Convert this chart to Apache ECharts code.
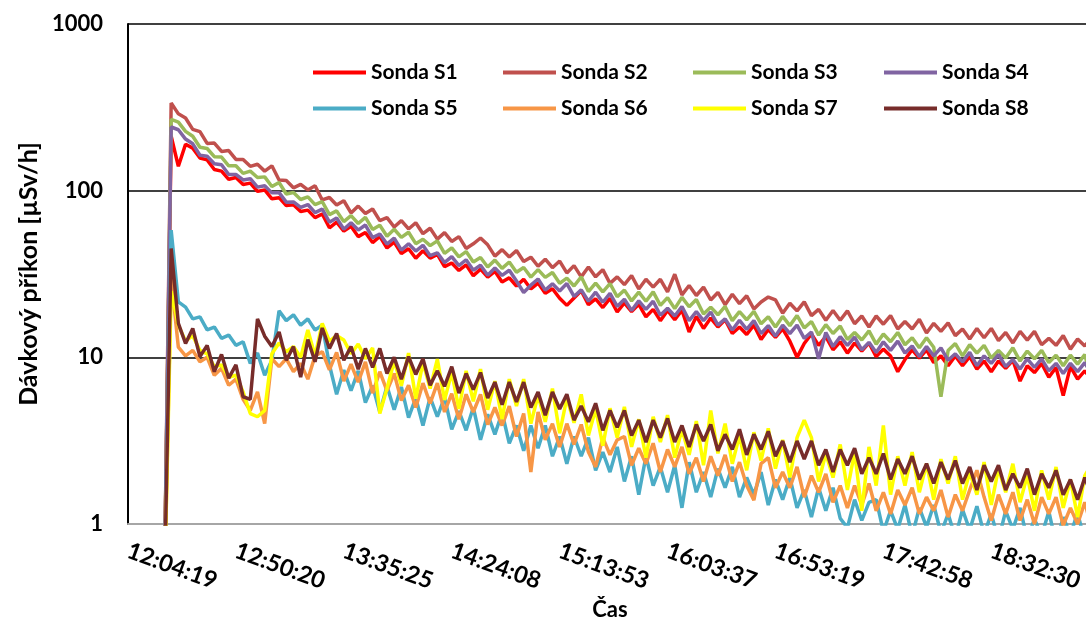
<!DOCTYPE html>
<html>
<head>
<meta charset="utf-8">
<script src="https://cdn.jsdelivr.net/npm/echarts@6.0.0/dist/echarts.min.js"></script>
<style>
html,body{margin:0;padding:0;background:#fff;}
#chart{width:1086px;height:623px;}
</style>
</head>
<body>
<div id="chart"></div>
<script>
// x-axis tick labels (one every K samples)
const tickLabels = ['12:04:19','12:50:20','13:35:25','14:24:08','15:13:53','16:03:37','16:53:19','17:42:58','18:32:30'];
const K = 15;
const seriesNames = ['Sonda S1','Sonda S2','Sonda S3','Sonda S4','Sonda S5','Sonda S6','Sonda S7','Sonda S8'];

const S1 = [
0.3,0.3,0.3,0.3,0.3,0.3,212,140,190,180,
157,153,134,131,117,120,109,111,99,101,
89.4,90.8,81.5,82.3,74.9,76.4,68.9,72.4,59.9,64.8,
57.2,61.2,53,56.1,48.8,53.2,45.3,49.1,42,44.8,
39.3,43.6,39.4,41.5,35,36.8,33.2,35.9,30.9,33.8,
30.3,32.8,28.3,30,26.8,29.4,25.7,27.9,24.2,25.8,
22.6,20.5,22.7,25.1,20.7,22.4,19.9,22.6,18.7,21.2,
18.8,20.8,17.5,19.4,16.6,19.1,16.8,19.2,14.2,17.6,
14.9,17.2,15.2,16.8,13.9,15.2,13.7,15.6,12.8,14.7,
13.2,14.8,12.5,10,12.1,13.8,11.8,13.3,11.1,12.4,
10.6,12.2,10.9,12.2,10.1,11.2,10.2,8.2,9.7,11.1,
9.9,11.1,9.3,10.2,8.9,10.2,8.9,10.1,8.5,9.5,
8.2,9.5,8.6,9.6,7.2,8.9,8.1,9.2,7.6,8.7,
5.9,8.8,7.4,8.3,7.3];

const S2 = [
0.3,0.3,0.3,0.3,0.3,0.3,336,289,273,233,
226,192,193,172,174,154,154,140,144,131,
141,116,115,104,109,101,107,88,91,82,
87,73.5,80.8,72.9,77.6,66.1,68.9,60.5,66.1,58.9,
64.2,55.2,59.5,51.2,56,49.6,53,45,48,52,
47.3,40.5,44.3,40,43.7,37.6,39.9,35.2,38.8,34.5,
37.8,32.1,35.5,30.4,34.8,30.4,33.6,27.8,30.4,27.3,
30.9,25.7,29.4,26.4,29.4,24.7,31.5,23.7,27,23.5,
26.4,22.1,24.5,20.7,23.9,21,23.4,19.5,21.5,23,
22.1,18.4,21.1,19,21.5,17.8,19.4,16.7,19.1,16.7,
19,15.9,17.7,15.2,17.7,15.8,17.8,14.8,16.4,14.8,
16.9,14,16,14.3,16.1,13.5,14.8,12.9,14.9,13.1,
14.9,12.6,14.1,12.2,14.3,12.7,14.3,11.9,13,11.8,
13.5,11.2,12.9,11.7,13.2];

const S3 = [
0.3,0.3,0.3,0.3,0.3,0.3,268,258,227,212,
182,179,160,159,141,141,127,131,120,121,
106,112,95.5,97.4,88.5,91.8,82.5,86,71.8,75.6,
65.2,70.8,63.5,69.1,58.5,62,53.3,58.7,52.4,56.3,
48.1,51.1,46.8,50,42.1,45.4,40.1,43.1,37.3,39.7,
34.8,38.3,34.2,37.3,32.4,34.6,30.3,33.6,30.2,32.3,
27.8,29.9,26.8,30.4,24.8,27.9,24.7,27.7,23.1,25.3,
21.8,24.6,21.7,24.7,20.5,22.8,19.6,22.9,20.1,22.2,
18.2,20,18,20.2,16.6,18.8,16.8,18.9,15.9,17.5,
15.2,17.6,15.5,17.8,15,16.4,13.6,15.7,13.9,15.4,
12.8,14.1,12.7,14.4,12,13.8,12.4,14.1,11.9,13.1,
11.4,13.1,11.5,5.8,11,12.1,10.2,11.9,10.6,11.8,
9.9,11,9.9,11.4,9.5,10.9,9.8,11,9.3,10.3,
8.9,10.3,9.1,10.4,7];

const S4 = [
0.3,0.3,0.3,0.3,0.3,0.3,241,232,204,191,
163,161,145,143,125,125,116,118,105,107,
97,97.3,85.3,85.6,79.4,82.6,73.8,77.5,64.7,68.5,
58.7,64.2,58,62.2,52.3,55,47.8,51.9,44,48,
43.4,47,40.7,42.4,37,40.2,35.5,38.5,33.3,35.7,
31.1,34.4,31,33.3,28.7,24.5,27.1,29.5,25.3,27.6,
25,27.7,23.2,25.4,21.7,24.6,21.4,24.2,20.2,22.3,
19.1,21.8,19.4,21.7,17.9,19.7,17.7,20.2,16.6,18.8,
16.6,18.7,15.6,17,14.6,16.7,14.7,16.6,13.9,15.5,
13.4,15.6,13.9,15.6,13,14.2,9.8,14.1,11.6,13.3,
11.8,13.2,11.1,12.3,10.7,12.4,11,12.5,10.6,11.7,
10.1,11.6,10.2,11.4,9.6,10.5,9.4,10.7,8.9,10.2,
9.2,10.4,8.8,9.7,8.5,9.8,8.7,9.8,8.3,9.2,
8,9.2,8.2,9.3,7.8];

const S5 = [
0.3,0.3,0.3,0.3,0.3,0.3,58,21.5,20,17,
17.5,14.6,15.2,13,13.6,11.8,12.4,9.2,10.6,7.8,
9.6,19,16.6,18,15.6,17,14.6,15.6,9,6.0,
8.4,6.3,8.3,5.35,6.75,4.7,6.7,4.85,6.65,4.35,
5.7,3.9,5.75,4.4,5.75,3.7,4.75,3.65,5.0,3.2,
4.55,3.45,4.65,3.05,3.9,2.75,3.9,2.85,3.9,2.55,
3.35,2.3,3.35,2.55,3.3,2.1,2.7,2.05,2.9,1.8,
2.55,1.5,2.55,1.7,2.2,1.55,2.25,1.25,2.35,1.55,
2.05,1.45,2.15,1.65,2.2,1.45,1.9,1.5,2.05,1.3,
1.85,1.4,1.9,1.25,1.6,1.1,1.65,1.2,1.65,1.08,
0.95,1.4,1.05,1.35,1.4,0.9,1.2,0.93,1.3,0.85,
1.25,0.96,1.3,0.88,1.15,0.83,1.22,0.92,1.28,0.87,
1.15,0.8,1.2,0.93,1.25,0.81,1.07,0.85,1.19,0.76,
1.1,0.86,1.17,0.78,1.03];

const S6 = [
0.3,0.3,0.3,0.3,0.3,0.3,30,11.5,10.2,11,
9.4,10,7.8,8.6,6.8,7.4,5.6,4.8,6.2,4.0,
9.8,8.8,9.8,8.2,9.2,7.4,10.2,10.8,8.4,10.7,
7.2,9.1,7.1,9.4,6.1,8.2,6.3,8,5.5,6.8,
5,7,5.3,7,4.7,6.05,4.25,6.0,4.7,6,
3.95,5,3.9,5.1,3.35,4.6,2.05,4.7,3.2,4.0,
2.9,4.0,3.0,3.95,2.7,2.2,3.3,2.6,3.2,3.35,
2.25,2.85,2.3,3.05,2.05,2.8,2.2,2.9,2.0,2.5,
1.8,2.55,1.95,2.6,1.8,2.35,1.7,1.39,2.3,2.5,
1.65,2.05,1.65,2.2,1.45,1.95,1.55,2.0,1.35,1.7,
1.25,1.7,1.3,1.75,1.2,1.55,1.15,1.6,1.3,1.65,
1.15,1.45,1.2,1.6,1.1,1.5,1.2,1.6,2.1,1.45,
1.05,1.5,1.15,1.55,1.05,1.4,1.0,1.45,1.15,1.45,
0.98,1.25,1.0,1.35,0.92];

const S7 = [
0.3,0.3,0.3,0.3,0.3,0.3,25,15.6,12.5,13.5,
11,10.5,8.8,9,7.6,7.8,6.2,4.6,4.4,4.8,
10.5,12.2,10.8,11.6,10,14.6,10.2,16,12.5,13.5,
12.7,10.5,12,9.8,11.4,4.6,6.5,9.5,6.75,10.6,
5.65,9.3,6.5,9.75,5.55,8.1,4.9,8.3,5.45,8.5,
4.85,7.2,4.25,7.4,5.1,7.4,4.0,5.9,4.1,6.5,
3.5,5.7,4.05,6,3.4,4.9,2.95,4.95,3.3,5.05,
2.9,4.25,2.5,4.4,3.1,4.5,2.5,3.7,2.6,4.15,
2.25,4.8,2.65,4.0,2.3,3.4,2.1,3.55,2.4,3.75,
2.15,3.2,1.9,3.3,4.2,3.3,1.8,2.65,1.9,3.0,
1.6,2.7,1.2,2.9,1.7,3.9,1.5,2.55,1.7,2.7,
1.55,2.3,1.4,2.45,1.75,2.55,1.4,2.05,1.5,2.35,
1.3,2.15,1.55,2.3,1.35,1.95,1.2,2.1,1.4,2.2,
1.25,1.85,1.1,1.95,2.3];

const S8 = [
0.3,0.3,0.3,0.3,0.3,0.3,45,16,12.1,14.9,
10.1,11.8,8.2,10.4,7.5,9,5.8,5.6,17,13.4,
11.6,14.2,9.6,11.6,7.6,12.8,9.4,15,11.3,13.9,
9.6,11.6,8.5,11.3,8.7,11.3,8,10,7.4,10.1,
7.9,9.8,6.8,8.3,6.7,8.8,6.1,8,6.4,8.1,
5.7,7.1,5.2,7.1,5.4,7.1,5,6.2,4.5,6.2,
4.9,6,4.2,5.1,4.1,5.3,3.65,4.8,3.8,4.8,
3.4,4.2,3.1,4.2,3.3,4.3,3.1,3.9,2.9,3.95,
3.15,3.95,2.75,3.45,2.8,3.7,2.6,3.45,2.8,3.6,
2.55,3.15,2.35,3.15,2.45,3.15,2.25,2.8,2.05,2.8,
2.25,2.85,2.0,2.5,2.0,2.65,1.85,2.45,2.0,2.55,
1.85,2.3,1.75,2.35,1.85,2.4,1.75,2.2,1.6,2.25,
1.8,2.25,1.6,2.0,1.65,2.15,1.5,2.0,1.65,2.1,
1.5,1.85,1.4,1.9,1.45];

const seriesValues = [S1,S2,S3,S4,S5,S6,S7,S8];
const seriesColors = ['#FF0000','#C0504D','#9BBB59','#8064A2','#4BACC6','#F79646','#FFFF00','#772C2A'];
const categories = S1.map((_, i) => String(i));

const FONT = 'Lato, "Liberation Sans", Arial, sans-serif';
const txt = (size) => ({fontFamily: FONT, fontSize: size, fontWeight: 'bold', color: '#000'});

const legendCols = [313, 503, 693, 884];
const legendRows = [62, 98];

const chart = echarts.init(document.getElementById('chart'), null, {renderer: 'canvas'});
chart.setOption({
  animation: false,
  backgroundColor: '#fff',
  grid: {left: 128, right: -6, top: 24, bottom: 99, containLabel: false, outerBoundsMode: 'none'},
  legend: seriesNames.map((n, k) => ({
    data: [n],
    left: legendCols[k % 4],
    top: legendRows[Math.floor(k / 4)],
    padding: 0,
    itemWidth: 53, itemHeight: 4, icon: 'rect',
    selectedMode: false,
    textStyle: txt(21)
  })),
  xAxis: {
    type: 'category',
    data: categories,
    boundaryGap: false,
    axisLine: {onZero: false, lineStyle: {color: '#a6a6a6', width: 2}},
    axisTick: {show: false},
    splitLine: {show: false},
    axisLabel: Object.assign(txt(23.5), {
      interval: K - 1, rotate: -20, margin: 26,
      formatter: (v, i) => (i % K === 0 && tickLabels[i / K]) ? tickLabels[i / K] : ''
    }),
    name: 'Čas', nameLocation: 'middle', nameGap: 58,
    nameTextStyle: txt(22)
  },
  yAxis: {
    type: 'log', logBase: 10, min: 1, max: 1000,
    axisLine: {show: true, lineStyle: {color: '#000', width: 2}},
    axisTick: {show: false},
    axisLabel: Object.assign(txt(22), {margin: 25, formatter: (v) => String(Math.round(v))}),
    splitLine: {show: true, showMinLine: false, lineStyle: {color: '#000', width: 1.5}},
    name: 'Dávkový příkon [µSv/h]', nameLocation: 'middle', nameGap: 76, nameRotate: 90,
    nameTextStyle: txt(25)
  },
  series: seriesValues.map((vals, k) => ({
    name: seriesNames[k],
    type: 'line',
    data: vals,
    showSymbol: false,
    symbol: 'none',
    clip: true,
    silent: true,
    color: seriesColors[k],
    lineStyle: {color: seriesColors[k], width: 3.5}
  }))
});
</script>
</body>
</html>
